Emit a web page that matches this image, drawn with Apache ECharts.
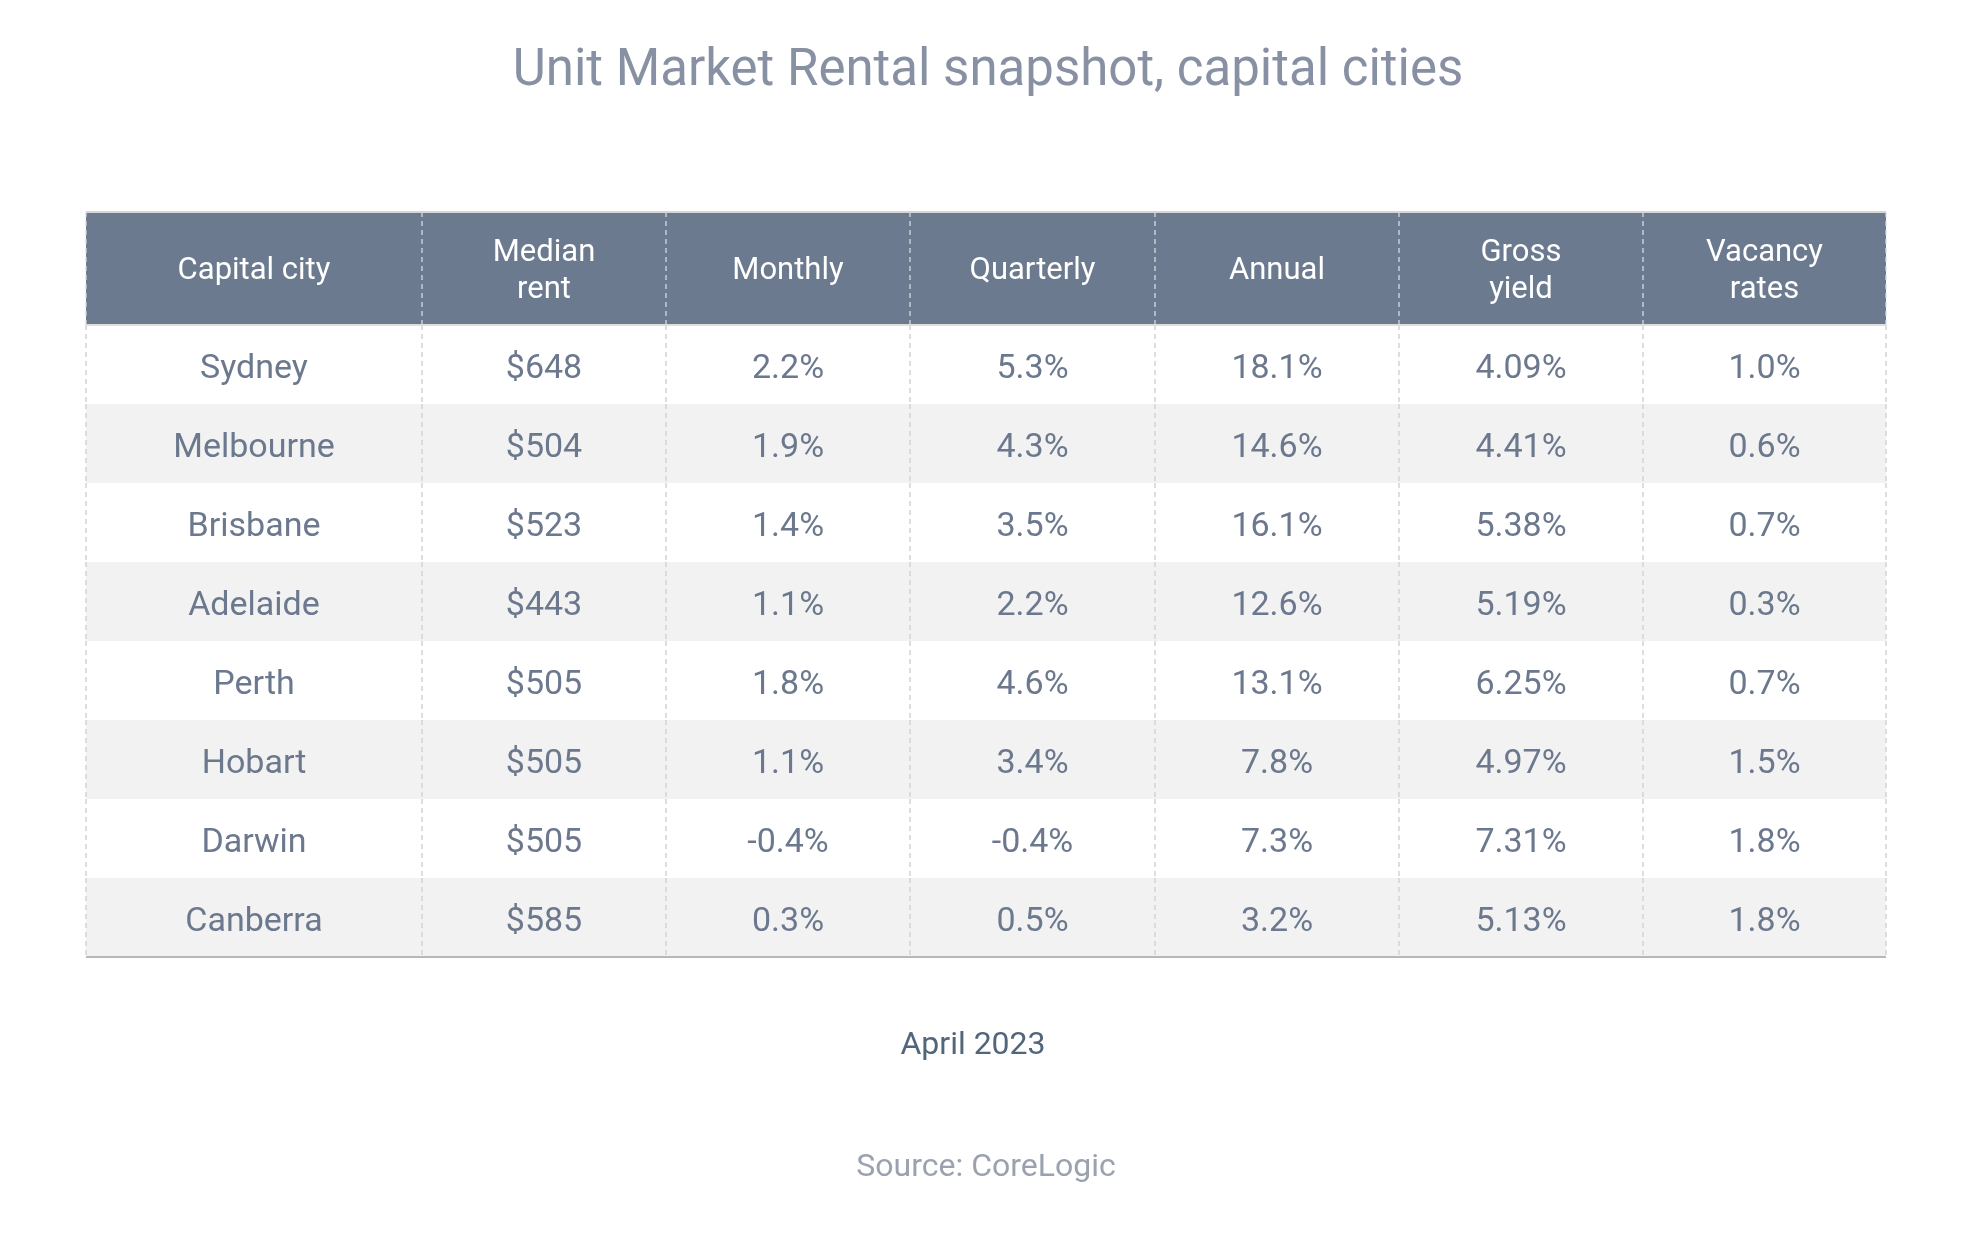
<!DOCTYPE html>
<html>
<head>
<meta charset="utf-8">
<title>Unit Market Rental snapshot</title>
<script src="https://cdn.jsdelivr.net/npm/echarts@6/dist/echarts.min.js"></script>
<style>
  html, body { margin: 0; padding: 0; background: #fff; }
  #chart { width: 1976px; height: 1238px; }
</style>
</head>
<body>
<div id="chart"></div>
<script>
// table contents
const headers = ['Capital city', 'Median\nrent', 'Monthly', 'Quarterly', 'Annual', 'Gross\nyield', 'Vacancy\nrates'];
const cities = ['Sydney', 'Melbourne', 'Brisbane', 'Adelaide', 'Perth', 'Hobart', 'Darwin', 'Canberra'];
const medianRent = [648, 504, 523, 443, 505, 505, 505, 585];
const monthly = [2.2, 1.9, 1.4, 1.1, 1.8, 1.1, -0.4, 0.3];
const quarterly = [5.3, 4.3, 3.5, 2.2, 4.6, 3.4, -0.4, 0.5];
const annual = [18.1, 14.6, 16.1, 12.6, 13.1, 7.8, 7.3, 3.2];
const grossYield = [4.09, 4.41, 5.38, 5.19, 6.25, 4.97, 7.31, 5.13];
const vacancy = [1.0, 0.6, 0.7, 0.3, 0.7, 1.5, 1.8, 1.8];

// layout of the table (axis units)
const colWidths = [336, 244, 244, 245, 244, 244, 243];
const headerHeight = 113;
const rowHeight = 79;

const colEdges = [0];
colWidths.forEach(w => colEdges.push(colEdges[colEdges.length - 1] + w));
const rowEdges = [0, headerHeight];
cities.forEach(() => rowEdges.push(rowEdges[rowEdges.length - 1] + rowHeight));
const totalW = colEdges[colEdges.length - 1];
const totalH = rowEdges[rowEdges.length - 1];

const pct1 = v => v.toFixed(1) + '%';
const columns = [
  cities,
  medianRent.map(v => '$' + v),
  monthly.map(pct1),
  quarterly.map(pct1),
  annual.map(pct1),
  grossYield.map(v => v.toFixed(2) + '%'),
  vacancy.map(pct1)
];

const cells = [];
headers.forEach((h, c) => cells.push({ col: c, row: 0, text: h }));
cities.forEach((_, r) => {
  columns.forEach((colData, c) => cells.push({ col: c, row: r + 1, text: colData[r] }));
});

const lastCol = headers.length - 1;
const lastRow = cities.length;

function renderItem(params, api) {
  const col = api.value(0);
  const row = api.value(1);
  const p0 = api.coord([colEdges[col], rowEdges[row]]);
  const p1 = api.coord([colEdges[col + 1], rowEdges[row + 1]]);
  const x0 = p0[0], y0 = p0[1], x1 = p1[0], y1 = p1[1];
  const isHead = row === 0;
  const fill = isHead ? '#6b7a8f' : (row % 2 === 0 ? '#f2f2f2' : '#ffffff');
  const dashColor = isHead ? 'rgba(214,219,226,0.85)' : '#d4d4d4';
  const children = [
    { type: 'rect', shape: { x: x0, y: y0, width: x1 - x0, height: y1 - y0 }, style: { fill: fill }, z2: 0 },
    {
      type: 'text', z2: 5,
      style: {
        text: cells[params.dataIndex].text,
        x: (x0 + x1) / 2, y: (y0 + y1) / 2 + (isHead ? 3 : 5),
        align: 'center', verticalAlign: 'middle',
        fill: isHead ? '#ffffff' : '#6b788d',
        fontFamily: 'Roboto', fontSize: isHead ? 31 : 34,
        lineHeight: isHead ? 37 : 40
      }
    },
    { type: 'line', z2: 10, shape: { x1: x0, y1: y0, x2: x0, y2: y1 }, style: { stroke: dashColor, lineWidth: 1.5, lineDash: [5, 4] } }
  ];
  if (col === lastCol) {
    children.push({ type: 'line', z2: 10, shape: { x1: x1, y1: y0, x2: x1, y2: y1 }, style: { stroke: dashColor, lineWidth: 1.5, lineDash: [5, 4] } });
  }
  if (isHead) {
    children.push({ type: 'line', z2: 12, shape: { x1: x0, y1: y0, x2: x1, y2: y0 }, style: { stroke: '#d6d6d6', lineWidth: 2 } });
    children.push({ type: 'line', z2: 12, shape: { x1: x0, y1: y1, x2: x1, y2: y1 }, style: { stroke: '#dedede', lineWidth: 2 } });
  }
  if (row === lastRow) {
    children.push({ type: 'line', z2: 12, shape: { x1: x0, y1: y1, x2: x1, y2: y1 }, style: { stroke: '#b8b8b8', lineWidth: 2 } });
  }
  return { type: 'group', children: children };
}

const chart = echarts.init(document.getElementById('chart'));
const option = {
  backgroundColor: '#ffffff',
  animation: false,
  title: [
    {
      text: 'Unit Market Rental snapshot, capital cities',
      left: 'center', top: 47, padding: 0,
      textStyle: { fontFamily: 'Roboto', fontSize: 51, fontWeight: 'normal', color: '#8890a3' }
    },
    {
      text: 'April 2023',
      left: 973, textAlign: 'center', top: 1030, padding: 0,
      textStyle: { fontFamily: 'Roboto', fontSize: 32, fontWeight: 'normal', color: '#51667b' }
    },
    {
      text: 'Source: CoreLogic',
      left: 986, textAlign: 'center', top: 1152, padding: 0,
      textStyle: { fontFamily: 'Roboto', fontSize: 32, fontWeight: 'normal', color: '#9aa2af' }
    }
  ],
  grid: { left: 86, right: 90, top: 212, bottom: 281 },
  xAxis: { type: 'value', min: 0, max: totalW, show: false },
  yAxis: { type: 'value', min: 0, max: totalH, inverse: true, show: false },
  series: [{
    type: 'custom',
    renderItem: renderItem,
    clip: false,
    silent: true,
    encode: { x: 0, y: 1 },
    data: cells.map(c => [c.col, c.row])
  }]
};
chart.setOption(option);
</script>
</body>
</html>
